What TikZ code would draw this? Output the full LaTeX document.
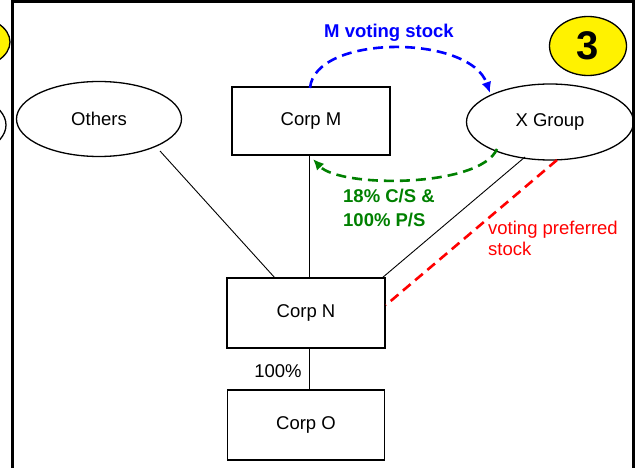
\documentclass[tikz,border=0pt]{standalone}
\usepackage{fontspec}
\setmainfont{Liberation Sans}
\usetikzlibrary{arrows.meta,shapes.geometric}
\begin{document}
\begin{tikzpicture}[x=1pt,y=-1pt,
  lbl/.style={font=\fontsize{18.5}{21}\selectfont},
  ell/.style={draw,line width=1.3pt,ellipse,inner sep=0pt},
  box/.style={draw,line width=1.3pt,rectangle,inner sep=0pt},
  link/.style={line width=0.9pt},
  dsh/.style={line width=2.6pt,dash pattern=on 10pt off 6pt},
  tip/.style={-{Latex[length=11pt,width=10pt]}}]
\useasboundingbox (0,0) rectangle (635,468);
\clip (0,0) rectangle (635,468);
% partial elements of neighbouring panel
\node[ell,fill=yellow,minimum width=80pt,minimum height=52pt] (yl) at (-30,42) {};
\node[ell,minimum width=152pt,minimum height=74pt] (ol) at (-70,125) {};
% frame
\draw[line width=3pt] (12,468) -- (12,2) -- (633.5,2) -- (633.5,468);
% nodes
\node[ell,minimum width=165pt,minimum height=75pt,lbl] (others) at (99,119) {Others};
\node[box,minimum width=158pt,minimum height=68pt,lbl] (m) at (311,121) {Corp M};
\node[ell,minimum width=167pt,minimum height=76pt,lbl] (x) at (550,122) {X Group};
\node[box,minimum width=158pt,minimum height=70pt,lbl] (n) at (306,313) {Corp N};
\node[box,minimum width=157pt,minimum height=70pt,lbl] (o) at (306,425) {Corp O};
\node[ell,fill=yellow,minimum width=77pt,minimum height=59pt,font=\fontsize{40}{44}\selectfont\bfseries] (three) at (588,46) {3};
% connectors
\coordinate (othersend) at (160,151);
\coordinate (nl) at (275,278);
\draw[link] (othersend) -- (nl);
\draw[link] (m.south -| 309,0) -- (n.north -| 309,0);
\coordinate (xs) at (525,157);
\coordinate (nr) at (382,278);
\draw[link] (xs) -- (nr);
\draw[link] (n.south -| 309,0) -- (o.north -| 309,0);
\node[lbl,anchor=center] (pct) at (278,371) {100\%};
% red dashed
\coordinate (xr) at (557,160);
\coordinate (nrr) at (386,305);
\draw[dsh,red] (xr) -- (nrr);
\node[red,align=left,anchor=north west,inner sep=0pt,font=\fontsize{18.5}{21}\selectfont] (vp) at (488,221) {voting preferred\\stock};
% blue dashed arc
\coordinate (mb) at (310,88);
\coordinate (xb) at (490,93);
\draw[dsh,blue,tip] (mb) .. controls (315,34) and (470,34) .. (xb);
\node[blue,font=\fontsize{18.5}{21}\selectfont\bfseries] (mv) at (389,33) {M voting stock};
% green dashed arc
\coordinate (xg) at (497,149);
\coordinate (mg) at (313,159);
\draw[dsh,green!50!black,tip] (xg) .. controls (480,188) and (340,188) .. (mg);
\node[green!50!black,align=left,anchor=north west,inner sep=0pt,font=\fontsize{18.5}{24}\selectfont\bfseries] (cs) at (343,189) {18\% C/S \&\\100\% P/S};
\end{tikzpicture}
\end{document}
